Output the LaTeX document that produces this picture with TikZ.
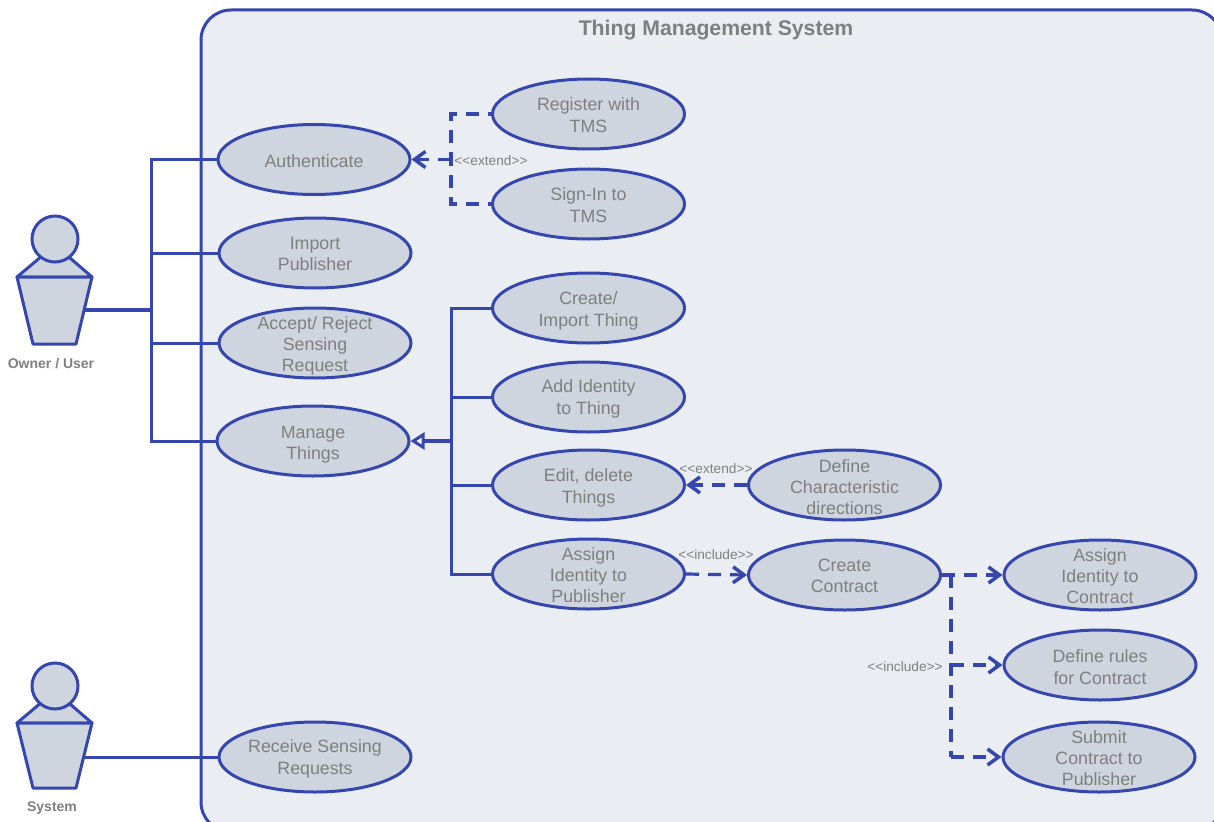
\documentclass[tikz,border=0pt]{standalone}
\usepackage{fontspec}
\setmainfont{Liberation Sans}
\usetikzlibrary{arrows.meta, shapes.geometric}
\definecolor{umlblue}{HTML}{3547AE}
\definecolor{umlfill}{HTML}{CFD5DF}
\definecolor{umlback}{HTML}{EAEEF2}
\definecolor{umltext}{HTML}{7F7F7F}
\tikzstyle{usecase}=[ellipse, draw=umlblue, fill=umlfill, line width=3pt, minimum width=192pt, minimum height=70pt, inner sep=0pt]
\tikzstyle{casetext}=[align=center, inner sep=0pt, yshift=-1pt, text=umltext, font=\fontsize{17.8}{21.3}\selectfont]
\tikzstyle{head}=[circle, draw=umlblue, fill=umlfill, line width=3pt, minimum size=46pt, inner sep=0pt]
\tikzstyle{body}=[draw=umlblue, fill=umlfill, line width=3pt, line join=round]
\tikzstyle{title}=[text=umltext, font=\fontsize{21.2}{24}\selectfont\bfseries]
\tikzstyle{actorname}=[text=umltext, font=\fontsize{14}{16}\selectfont\bfseries]
\tikzstyle{stereotype}=[text=umltext, inner sep=0pt, font=\fontsize{13.7}{15}\selectfont]
\tikzstyle{assoc}=[draw=umlblue, line width=3pt]
\tikzstyle{arrow}=[draw=umlblue, line width=3.2pt, dash pattern=on 13pt off 9pt, >={Straight Barb[length=11pt, width=16pt, line width=3.5pt]}]
\tikzstyle{general}=[draw=umlblue, line width=4.5pt, -{Triangle[open, length=14pt, width=17pt, line width=3pt, fill=white]}]

\begin{document}
\begin{tikzpicture}[x=1pt, y=-1pt]
		   \useasboundingbox (0, 0) rectangle (1214, 821);
		   \begin{scope}
			   \draw [draw=umlblue, fill=umlback, line width=3pt, rounded corners=30pt] (201, 10) rectangle (1222, 832);
			   \node (title) at (716, 30)[title] {Thing Management System};
		   \end{scope}
		   \begin{scope}
			   \draw [body] (17, 277) -- (55, 245) -- (92, 277) -- cycle;
			   \draw [body] (17, 277) -- (92, 277) -- (76, 344) -- (33, 344) -- cycle;
			   \node (ownerhead) at (55, 239)[head] {};
			   \node (ownername) at (51, 364)[actorname] {Owner / User};
			   \coordinate (owner) at (85, 310);
			   \draw [body] (17, 723) -- (55, 691) -- (92, 723) -- cycle;
			   \draw [body] (17, 723) -- (92, 723) -- (76, 788) -- (33, 788) -- cycle;
			   \node (systemhead) at (55, 686)[head] {};
			   \node (systemname) at (52, 808)[actorname] {System};
			   \coordinate (system) at (85, 757);
		   \end{scope}
		   \begin{scope}
			   \node (authenticate) at (314, 159.5)[usecase, label={[casetext, yshift=-1pt]center:Authenticate}] {};
			   \node (importpub) at (315, 253)[usecase, label={[casetext]center:Import\\Publisher}] {};
			   \node (accept) at (315, 343)[usecase, label={[casetext, yshift=-2pt]center:Accept/ Reject\\Sensing\\Request}] {};
			   \node (manage) at (313, 441)[usecase, label={[casetext, yshift=-3pt]center:Manage\\Things}] {};
			   \node (receive) at (315, 757)[usecase, label={[casetext, yshift=-1pt]center:Receive Sensing\\Requests}] {};
			   \node (register) at (588.5, 114)[usecase, label={[casetext]center:Register with\\TMS}] {};
			   \node (signin) at (588.5, 204)[usecase, label={[casetext]center:Sign-In to\\TMS}] {};
			   \node (creatething) at (588.5, 308)[usecase, label={[casetext, yshift=-2pt]center:Create/\\Import Thing}] {};
			   \node (addidentity) at (588.5, 397)[usecase, label={[casetext, yshift=-1pt]center:Add Identity\\to Thing}] {};
			   \node (editthings) at (588.5, 485)[usecase, label={[casetext, yshift=-2pt]center:Edit, delete\\Things}] {};
			   \node (assignpub) at (588.5, 574)[usecase, label={[casetext]center:Assign\\Identity to\\Publisher}] {};
			   \node (definechar) at (844.5, 485)[usecase, label={[casetext, yshift=-1pt]center:Define\\Characteristic\\directions}] {};
			   \node (contract) at (844.5, 575)[usecase, label={[casetext]center:Create\\Contract}] {};
			   \node (assigncon) at (1100, 575)[usecase, label={[casetext]center:Assign\\Identity to\\Contract}] {};
			   \node (definerules) at (1100, 665)[usecase, label={[casetext, yshift=-1pt]center:Define rules\\for Contract}] {};
			   \node (submit) at (1099, 757)[usecase, label={[casetext]center:Submit\\Contract to\\Publisher}] {};
		   \end{scope}
		   \begin{scope}
			   \coordinate (ownerbus) at (151, 310);
			   \coordinate (thingbus) at (451, 441);
			   \coordinate (signbus) at (451, 159.5);
			   \coordinate (contractbus) at (951, 575);
			   \coordinate (rulesbus) at (951, 665);
			   \coordinate (submitbus) at (951, 757);
			   \draw [assoc, line width=4.5pt] (owner) -- (ownerbus);
			   \draw [assoc] (authenticate.west) -| (ownerbus);
			   \draw [assoc] (importpub.west) -| (ownerbus);
			   \draw [assoc] (accept.west) -| (ownerbus);
			   \draw [assoc] (manage.west) -| (ownerbus);
			   \draw [assoc] (system) -- (receive.west);
			   \draw [assoc] (creatething.west) -| (thingbus);
			   \draw [assoc] (addidentity.west) -| (thingbus);
			   \draw [assoc] (editthings.west) -| (thingbus);
			   \draw [assoc] (assignpub.west) -| (thingbus);
			   \draw [general] (thingbus) -- (manage.east);
			   \draw [arrow, dash phase=10pt] (register.west) -| (signbus);
			   \draw [arrow, dash phase=10pt] (signin.west) -| (signbus);
			   \draw [arrow, ->] (signbus) -- (authenticate.east);
			   \draw [arrow, ->] (definechar.west) -- (editthings.east);
			   \draw [arrow, ->] (assignpub.east) -- (contract.west);
			   \draw [arrow, ->] (contract.east) -- (assigncon.west);
			   \draw [arrow] (contractbus) -- (submitbus);
			   \draw [arrow, ->] (rulesbus) -- (definerules.west);
			   \draw [arrow, ->] (submitbus) -- (submit.west);
		   \end{scope}
		   \begin{scope}
			   \node (extendsign) at (491, 161)[stereotype] {{<}{<}extend{>}{>}};
			   \node (extendchar) at (716, 469)[stereotype] {{<}{<}extend{>}{>}};
			   \node (includecon) at (716, 555)[stereotype] {{<}{<}include{>}{>}};
			   \node (includerules) at (905, 667)[stereotype] {{<}{<}include{>}{>}};
		   \end{scope}
	   \end{tikzpicture}
\end{document}
